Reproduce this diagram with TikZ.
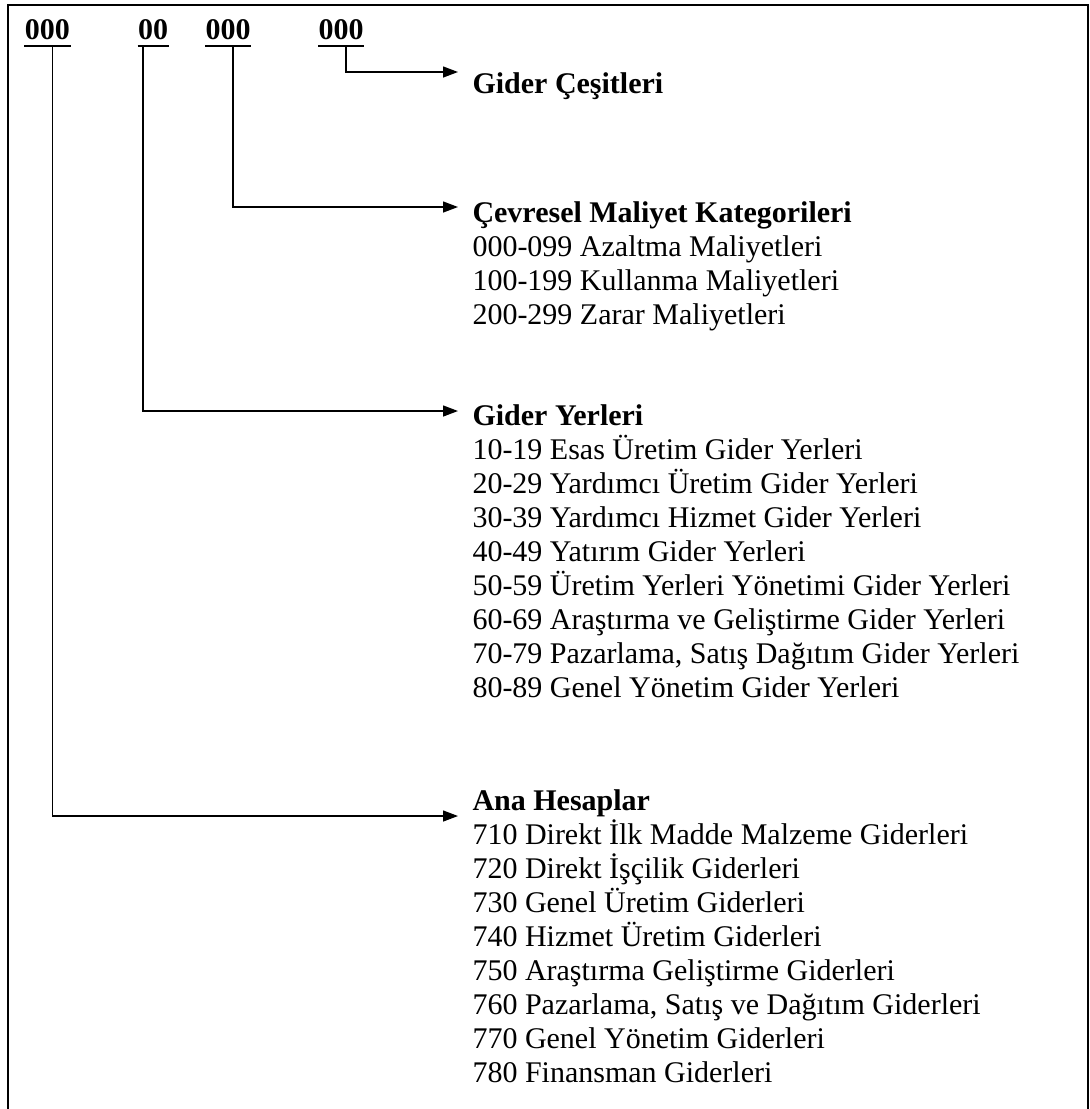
\documentclass[tikz,border=0pt]{standalone}
\usepackage{fontspec}
\setmainfont{Liberation Serif}
\usetikzlibrary{calc,positioning,arrows.meta}

\begin{document}
\begin{tikzpicture}[x=0.4pt,y=-0.4pt]

     \tikzstyle{every node}=[inner sep=0pt,anchor=base west,font=\fontsize{12pt}{14pt}\selectfont]
     \tikzstyle{kod}=[anchor=base,font=\fontsize{12pt}{14pt}\selectfont\bfseries]
     \tikzstyle{baslik}=[font=\fontsize{12pt}{14pt}\selectfont\bfseries]
     \tikzstyle{ok}=[line width=0.55pt,-{Triangle[length=6pt,width=4.4pt]}]
     \useasboundingbox (0,0) rectangle (1090,1109);
     \draw[line width=0.9pt] (8,1115) -- (8,5) -- (1088,5) -- (1088,1115);

     % hesap kodu
     \node[kod] at (47.5,39) (k1){000};
     \node[kod] at (153,39) (k2){00};
     \node[kod] at (228,39) (k3){000};
     \node[kod] at (341,39) (k4){000};
     \foreach \k in {k1,k2,k3,k4}
        \draw[line width=1pt] ($(\k.base west)+(0,7)$) -- ($(\k.base east)+(0,7)$);

     % basliklar
     \node[baslik] at (472,93) (gc){Gider Çeşitleri};
     \node[baslik] at (472,222) (cev){Çevresel Maliyet Kategorileri};
     \node[baslik] at (472,425) (gy){Gider Yerleri};
     \node[baslik] at (472,810) (ah){Ana Hesaplar};

     \foreach \t [count=\i] in {000-099 Azaltma Maliyetleri,100-199 Kullanma Maliyetleri,200-299 Zarar Maliyetleri}
        \node at ($(cev.base west)+(0,\i*34)$) (cev\i){\t};
     \foreach \t [count=\i] in {10-19 Esas Üretim Gider Yerleri,20-29 Yardımcı Üretim Gider Yerleri,
        30-39 Yardımcı Hizmet Gider Yerleri,40-49 Yatırım Gider Yerleri,50-59 Üretim Yerleri Yönetimi Gider Yerleri,
        60-69 Araştırma ve Geliştirme Gider Yerleri,{70-79 Pazarlama, Satış Dağıtım Gider Yerleri},80-89 Genel Yönetim Gider Yerleri}
        \node at ($(gy.base west)+(0,\i*34)$) (gy\i){\t};
     \foreach \t [count=\i] in {710 Direkt İlk Madde Malzeme Giderleri,720 Direkt İşçilik Giderleri,730 Genel Üretim Giderleri,
        740 Hizmet Üretim Giderleri,750 Araştırma Geliştirme Giderleri,{760 Pazarlama, Satış ve Dağıtım Giderleri},
        770 Genel Yönetim Giderleri,780 Finansman Giderleri}
        \node at ($(ah.base west)+(0,\i*34)$) (ah\i){\t};

     \draw[ok] ($(k4.base)+(5,8)$) |- ($(gc.base west)+(-14,-21)$);
     \draw[ok] ($(k3.base)+(5,8)$) |- ($(cev.base west)+(-14,-15)$);
     \draw[ok] ($(k2.base)+(-10,8)$) |- ($(gy.base west)+(-14,-14)$);
     \draw[ok] ($(k1.base)+(5,8)$) |- ($(ah.base west)+(-14,6)$);

\end{tikzpicture}
\end{document}
